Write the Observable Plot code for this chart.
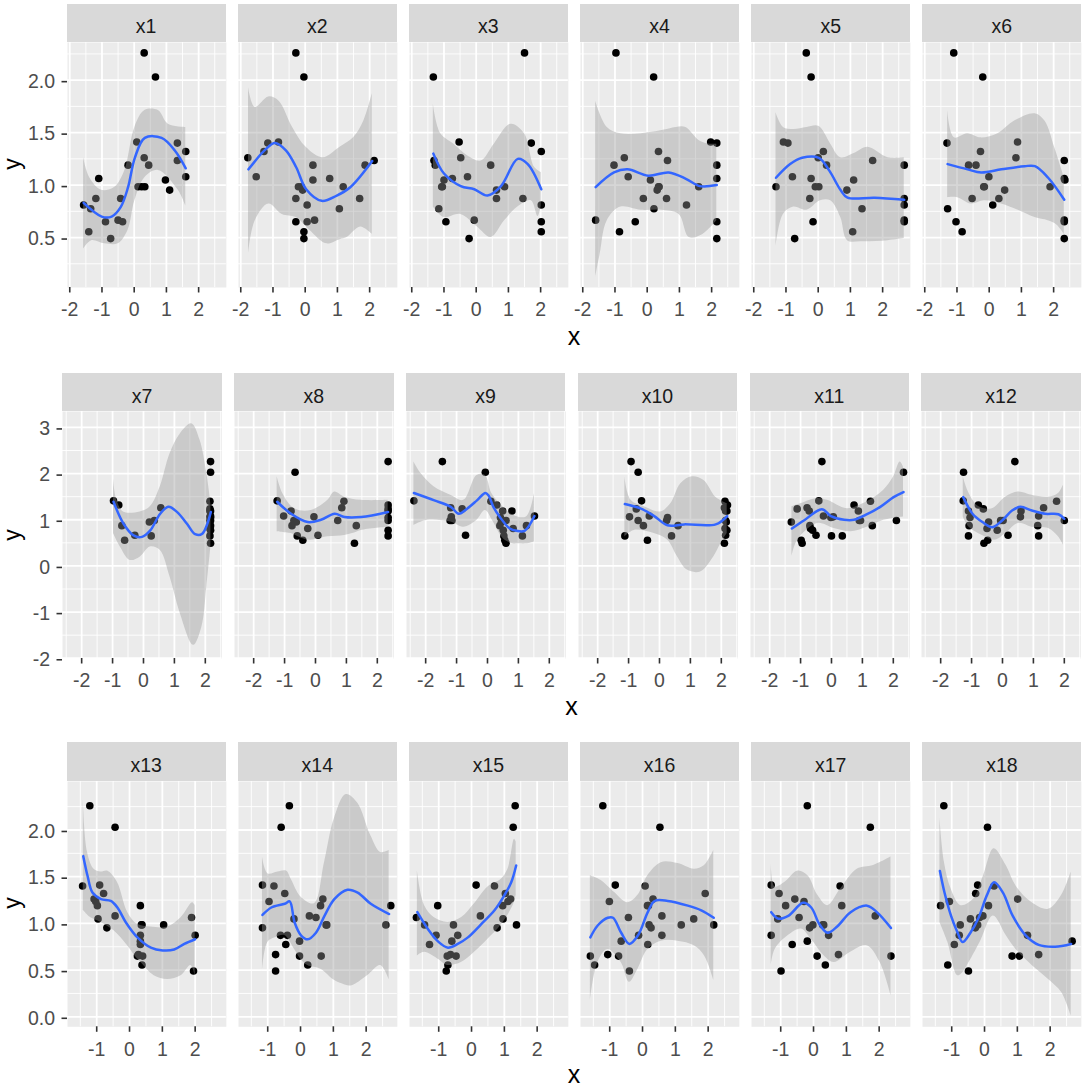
<!DOCTYPE html>
<html>
<head>
<meta charset="utf-8">
<script src="https://cdn.jsdelivr.net/npm/d3@7"></script>
<script src="https://cdn.jsdelivr.net/npm/@observablehq/plot@0.6"></script>
<style>
  body { margin: 0; background: #fff; width: 1084px; height: 1088px; position: relative; overflow: hidden;
         font-family: "Liberation Sans", Arial, sans-serif; }
  .strip { position: absolute; background: #D9D9D9; color: #1A1A1A; font-size: 19.5px; box-sizing: border-box;
           padding-top: 8px; display: flex; align-items: center; justify-content: center; }
  .pnl { position: absolute; }
  .pnl svg { background: transparent; }
  .ttl { position: absolute; width: 0; height: 0; font-size: 25px; color: #000; line-height: 0.6; }
  .ttl span { position: absolute; left: 0; top: 0; white-space: nowrap; transform: translate(-50%, -50%); }
  .ttl.rot { font-size: 23px; }
  .ttl.rot span { transform: translate(-50%, -50%) rotate(-90deg); }
</style>
</head>
<body>
<script>
// ---- shared response values (same y for every predictor panel) ----
const Y = [2.26, 2.03, 1.41, 1.40, 1.32, 1.26, 1.235, 1.19, 1.19, 1.08, 1.063, 1.048, 0.984, 0.984, 0.984, 0.952, 0.872, 0.872, 0.81, 0.774, 0.666, 0.65, 0.65, 0.555, 0.49];

// ---- predictor values, aligned with Y ----
const x1 = [0.31, 0.66, 0.08, 1.34, 1.60, 0.31, 1.34, 0.45, -0.19, 1.60, -1.10, 0.97, 0.12, 0.23, 0.33, 1.10, -1.19, -0.42, -1.57, -1.35, -0.50, -0.89, -0.36, -1.41, -0.73];
const x2 = [-0.29, -0.04, -0.83, -1.16, -1.28, -1.78, 2.14, 0.24, 1.86, -1.52, 0.76, 0.24, -0.21, -0.12, 1.18, -0.08, -0.29, 1.69, 0.06, 1.06, 0.29, -0.29, 0.06, -0.04, -0.04];
const x3 = [1.50, -1.33, -0.53, 1.71, 2.02, -0.48, -1.31, 0.45, -1.27, -0.27, -0.74, -1.00, -1.05, -1.07, 0.88, 0.63, 0.63, 1.45, 2.02, -1.16, -0.06, -0.94, 2.02, 2.02, -0.22];
const x4 = [-0.97, 0.20, 1.97, 2.16, 0.35, -0.71, 0.63, -1.03, 2.16, -0.59, 2.16, 0.10, 0.37, 1.60, 0.35, 0.31, -0.12, 0.60, 1.22, 0.21, -1.60, -0.37, 2.16, -0.86, 2.16];
const x5 = [-0.37, -0.22, -1.08, -0.94, 0.16, 0.00, 1.69, 0.26, 2.67, -0.80, -0.22, 1.10, -1.31, -0.09, 0.02, 0.89, -0.26, 2.67, 2.67, 1.36, 2.67, -0.16, 2.67, 1.07, -0.73];
const x6 = [-1.10, -0.20, 0.88, -1.31, -0.27, 0.83, 2.33, -0.64, -0.41, -0.01, 2.33, 2.35, -0.17, 1.89, -0.15, 0.48, -0.53, 0.30, 0.11, -1.29, 2.33, -1.03, 2.33, -0.84, 2.33];
const x7 = [2.17, 2.17, -0.97, 2.15, -0.80, 0.56, 2.15, 2.17, 2.15, 2.17, 2.15, 2.17, 0.35, 2.15, 2.17, 0.19, -0.70, 2.17, 2.15, 2.17, -0.28, 0.25, 2.15, -0.61, 2.17];
const x8 = [2.35, -0.66, -1.24, 0.92, 2.35, 0.85, 2.35, -0.79, 2.35, -1.03, -0.05, 2.35, 0.72, -0.70, 2.35, -0.62, -0.76, 1.32, -0.25, 2.35, 0.08, -0.59, 2.35, -0.41, 1.26];
const x9 = [-1.46, -0.07, -2.38, 0.11, 0.30, -1.19, -0.82, 0.79, 0.49, 1.52, -1.17, 0.42, -1.21, 0.60, -1.15, 0.45, 0.40, 1.26, 0.83, 0.51, -0.71, 0.53, 1.13, 0.56, 0.60];
const x10 = [-0.92, -0.69, -0.58, 2.12, 2.20, 2.10, -0.75, 2.14, 2.18, -0.33, -0.97, 0.26, -0.69, 0.23, 2.14, 2.16, -0.52, 0.60, 2.12, 2.18, 2.14, -1.12, 0.39, -0.39, 2.10];
const x11 = [-0.31, 2.33, -0.41, 1.26, 0.73, -0.79, -1.11, -0.72, 0.87, -0.26, 0.06, -0.02, 0.94, 2.10, 0.90, -1.30, -0.70, 1.32, -0.68, -0.61, -0.50, 0.00, 0.35, -0.98, -0.95];
const x12 = [0.40, -1.26, -1.27, 1.75, -0.78, 1.33, -0.62, 0.60, -1.10, 1.17, 0.58, -1.05, -0.06, 2.00, 0.02, -0.45, -1.08, 1.14, -0.50, -0.17, 0.18, -1.10, 1.17, -0.48, -0.60];
const x13 = [-1.21, -0.44, -0.91, -1.43, -0.79, -1.08, -1.03, -0.98, 0.33, -0.44, 1.89, -0.96, 0.38, 1.04, 0.36, -0.69, 0.33, 2.00, 0.33, 0.33, 0.27, 0.40, 0.24, 0.38, 1.95];
const x14 = [-0.34, -0.59, -1.16, -0.81, -0.48, 0.68, -0.96, 0.61, 2.75, 0.27, 0.47, -0.20, 0.78, 2.60, 0.80, -1.16, -0.61, -0.40, -0.03, -0.45, -0.76, -0.03, 0.63, 0.22, -0.76];
const x15 = [1.33, 1.27, 0.14, 0.70, 1.03, 1.19, 1.11, -1.03, 0.95, 0.27, -1.68, 0.96, -1.43, 1.37, -0.55, 0.78, -1.08, -0.42, -0.60, -1.28, -0.64, -0.74, -0.47, -0.72, -0.77];
const x16 = [-1.21, 0.53, -0.83, 0.08, 1.91, 0.32, -1.01, 0.18, 0.15, 0.59, -0.43, 1.56, 1.18, 2.17, 0.20, 0.26, 0.59, -0.12, -0.65, 0.16, -1.06, -1.59, -0.73, -1.46, -0.40];
const x17 = [-0.19, 1.73, -1.29, 0.81, -1.05, -0.57, -0.29, -0.85, 0.86, 1.88, -0.44, -1.09, 0.31, -0.02, 0.28, -0.12, -1.29, 0.46, -0.19, -0.65, 0.76, 0.11, 2.36, 0.36, -0.99];
const x18 = [-1.24, 0.09, -0.21, 0.29, -0.27, 1.01, -1.07, -1.34, 0.12, -0.05, -0.15, -0.43, -0.74, -0.21, -0.25, -0.28, -0.77, 1.31, 2.67, -0.92, 1.65, 0.84, 1.06, -1.12, -0.49];

// ---- loess fits [x, y] and confidence band edges ----
const fit1 = [[-1.57,0.83],[-1.01,0.70],[-0.70,0.70],[-0.42,0.79],[-0.19,0.98],[0.02,1.26],[0.33,1.45],[0.85,1.45],[1.26,1.33],[1.60,1.16]];
const hi1 = [[-1.57,1.26],[-1.38,1.07],[-1.01,0.95],[-0.60,0.98],[-0.29,1.14],[0.02,1.55],[0.33,1.71],[0.75,1.71],[1.06,1.58],[1.60,1.55]];
const lo1 = [[-1.57,0.39],[-1.32,0.47],[-0.91,0.44],[-0.50,0.44],[-0.19,0.57],[0.02,0.85],[0.33,1.07],[0.75,1.14],[1.37,0.95],[1.60,0.80]];

const fit2 = [[-1.76,1.15],[-1.23,1.34],[-0.94,1.40],[-0.60,1.33],[-0.28,1.17],[0.03,0.96],[0.51,0.85],[0.98,0.90],[1.40,0.98],[2.08,1.23]];
const hi2 = [[-1.76,1.93],[-1.55,1.74],[-1.13,1.84],[-0.81,1.80],[-0.39,1.55],[0.03,1.36],[0.56,1.26],[1.08,1.36],[1.50,1.45],[1.82,1.61],[2.08,1.87]];
const lo2 = [[-1.76,0.34],[-1.55,0.66],[-1.13,0.82],[-0.71,0.72],[-0.28,0.69],[0.14,0.57],[0.67,0.44],[1.08,0.48],[1.30,0.50],[1.72,0.60],[2.08,0.53]];

const fit3 = [[-1.33,1.30],[-1.00,1.11],[-0.48,0.99],[-0.06,0.96],[0.35,0.90],[0.77,0.99],[1.29,1.25],[1.60,1.20],[2.02,0.96]];
const hi3 = [[-1.33,1.77],[-1.10,1.49],[-0.69,1.39],[-0.27,1.28],[0.15,1.23],[0.56,1.39],[1.08,1.58],[1.50,1.49],[1.81,1.17],[2.02,1.12]];
const lo3 = [[-1.33,0.79],[-1.00,0.69],[-0.48,0.72],[0.04,0.60],[0.46,0.50],[0.88,0.66],[1.29,0.79],[1.71,0.85],[1.92,0.70],[2.02,0.80]];

const fit4 = [[-1.60,0.98],[-1.03,1.12],[-0.61,1.15],[0.03,1.09],[0.67,1.12],[1.20,1.06],[1.63,0.99],[2.16,1.00]];
const hi4 = [[-1.60,1.80],[-1.24,1.55],[-0.82,1.49],[-0.18,1.49],[0.46,1.52],[0.90,1.55],[1.20,1.55],[1.63,1.42],[1.95,1.39],[2.16,1.39]];
const lo4 = [[-1.60,0.12],[-1.46,0.34],[-1.24,0.66],[-0.82,0.79],[-0.18,0.76],[0.46,0.76],[0.99,0.72],[1.31,0.50],[1.73,0.53],[2.16,0.66]];

const fit5 = [[-1.31,1.07],[-0.87,1.20],[-0.50,1.26],[0.02,1.26],[0.34,1.14],[0.70,0.95],[0.91,0.88],[1.75,0.88],[2.67,0.86]];
const hi5 = [[-1.31,1.69],[-1.08,1.55],[-0.76,1.53],[-0.35,1.55],[0.02,1.56],[0.39,1.39],[0.70,1.26],[1.12,1.30],[1.54,1.36],[2.17,1.26],[2.67,1.26]];
const lo5 = [[-1.31,0.41],[-1.08,0.72],[-0.76,0.79],[-0.35,0.76],[0.07,0.85],[0.39,0.85],[0.70,0.69],[0.91,0.47],[1.33,0.46],[2.17,0.47],[2.67,0.49]];

const fit6 = [[-1.29,1.20],[-0.67,1.15],[-0.25,1.12],[0.38,1.15],[1.10,1.18],[1.42,1.18],[1.83,1.07],[2.33,0.86]];
const hi6 = [[-1.29,1.71],[-1.08,1.45],[-0.67,1.49],[-0.25,1.45],[0.27,1.49],[0.79,1.61],[1.42,1.68],[1.73,1.61],[2.04,1.35],[2.33,1.07]];
const lo6 = [[-1.29,0.88],[-0.98,0.88],[-0.56,0.82],[-0.15,0.85],[0.38,0.82],[0.90,0.76],[1.42,0.69],[1.83,0.66],[2.10,0.62],[2.33,0.53]];

const fit7 = [[-0.97,1.39],[-0.65,0.92],[-0.32,0.66],[-0.05,0.63],[0.22,0.77],[0.54,1.13],[0.81,1.28],[1.08,1.17],[1.40,0.92],[1.67,0.69],[1.89,0.69],[2.18,1.17]];
const hi7 = [[-0.97,1.89],[-0.86,1.42],[-0.65,1.17],[-0.11,1.17],[0.22,1.28],[0.54,1.71],[0.86,2.43],[1.19,2.86],[1.56,3.08],[1.83,2.72],[2.05,2.00],[2.18,1.35]];
const lo7 = [[-0.97,0.70],[-0.75,0.41],[-0.43,0.12],[-0.11,0.19],[0.22,0.41],[0.54,0.34],[0.86,-0.24],[1.19,-1.03],[1.62,-1.72],[1.89,-1.32],[2.05,-0.45],[2.18,0.41]];

const fit8 = [[-1.24,1.39],[-0.79,1.13],[-0.25,0.95],[0.18,1.00],[0.62,1.13],[0.94,1.06],[1.48,1.06],[2.35,1.17]];
const hi8 = [[-1.24,1.93],[-1.06,1.57],[-0.68,1.24],[-0.14,1.20],[0.40,1.42],[0.62,1.60],[0.94,1.49],[1.48,1.42],[2.35,1.42]];
const lo8 = [[-1.24,0.74],[-1.00,0.72],[-0.79,0.70],[-0.25,0.56],[0.40,0.63],[0.94,0.66],[1.20,0.70],[1.48,0.77],[2.35,0.84]];

const fit9 = [[-2.38,1.58],[-1.72,1.42],[-1.19,1.28],[-0.93,1.13],[-0.66,1.24],[-0.34,1.42],[-0.07,1.58],[0.03,1.53],[0.19,1.28],[0.40,1.06],[0.72,0.81],[0.94,0.76],[1.20,0.76],[1.52,1.08]];
const hi9 = [[-2.38,2.25],[-2.15,2.00],[-1.72,1.71],[-1.19,1.53],[-0.77,1.42],[-0.34,1.96],[-0.07,1.96],[0.14,1.57],[0.40,1.35],[0.83,1.10],[1.26,1.06],[1.52,1.57]];
const lo9 = [[-2.38,0.88],[-1.94,0.99],[-1.19,0.95],[-0.77,0.84],[-0.34,0.99],[-0.07,1.20],[0.19,0.95],[0.51,0.59],[0.83,0.48],[1.00,0.48],[1.26,0.48],[1.52,0.52]];

const fit10 = [[-1.12,1.34],[-0.60,1.24],[-0.17,1.08],[0.26,0.88],[0.80,0.90],[1.82,0.90],[2.19,1.08]];
const hi10 = [[-1.12,1.93],[-0.92,1.42],[-0.49,1.28],[0.04,1.17],[0.37,1.35],[0.69,1.78],[1.06,1.93],[1.44,1.85],[1.82,1.49],[2.19,1.35]];
const lo10 = [[-1.12,0.63],[-0.82,0.77],[-0.17,0.70],[0.26,0.56],[0.58,0.20],[0.90,-0.09],[1.33,-0.13],[1.76,0.20],[2.00,0.50],[2.19,0.70]];

const fit11 = [[-1.28,0.81],[-0.88,0.99],[-0.31,1.23],[-0.02,1.08],[0.41,1.00],[0.73,1.00],[1.15,1.12],[1.58,1.28],[2.01,1.49],[2.33,1.60]];
const hi11 = [[-1.28,1.28],[-0.98,1.35],[-0.45,1.46],[-0.13,1.42],[0.51,1.24],[1.15,1.39],[1.69,1.64],[2.01,1.93],[2.22,2.25],[2.33,2.14]];
const lo11 = [[-1.28,0.20],[-1.09,0.56],[-0.45,0.92],[0.09,0.81],[0.62,0.74],[1.15,0.84],[1.69,0.99],[2.00,1.03],[2.20,1.05],[2.33,1.06]];

const fit12 = [[-1.27,1.49],[-0.97,1.13],[-0.65,0.95],[-0.33,0.84],[0.00,0.99],[0.31,1.20],[0.58,1.28],[0.95,1.20],[1.38,1.13],[1.81,1.12],[2.00,1.02]];
const hi12 = [[-1.27,1.93],[-1.08,1.57],[-0.76,1.28],[-0.33,1.24],[0.10,1.49],[0.52,1.60],[0.95,1.53],[1.49,1.49],[1.81,1.57],[1.97,1.75]];
const lo12 = [[-1.27,1.06],[-1.08,0.84],[-0.65,0.66],[-0.22,0.56],[0.10,0.70],[0.52,0.92],[0.95,0.84],[1.49,0.81],[1.81,0.63],[1.97,0.45]];

const fit13 = [[-1.41,1.72],[-1.28,1.51],[-1.13,1.33],[-0.87,1.26],[-0.57,1.24],[-0.37,1.17],[-0.11,1.01],[0.24,0.85],[0.65,0.74],[1.01,0.71],[1.36,0.72],[1.67,0.78],[2.00,0.83]];
const hi13 = [[-1.41,2.33],[-1.28,1.76],[-1.08,1.58],[-0.87,1.55],[-0.67,1.56],[-0.37,1.44],[-0.06,1.12],[0.24,0.99],[0.65,0.96],[1.16,0.96],[1.57,1.06],[1.92,1.22],[2.00,1.19]];
const lo13 = [[-1.41,1.14],[-1.28,1.09],[-1.18,1.06],[-0.87,1.01],[-0.47,0.92],[-0.06,0.76],[0.15,0.66],[0.35,0.58],[0.75,0.44],[1.16,0.40],[1.57,0.44],[1.87,0.55],[2.00,0.44]];

const fit14 = [[-1.16,1.09],[-0.89,1.17],[-0.48,1.21],[-0.33,1.235],[-0.18,1.01],[0.02,0.87],[0.22,0.83],[0.47,0.90],[0.73,1.08],[1.03,1.26],[1.43,1.36],[1.74,1.33],[2.14,1.21],[2.70,1.10]];
const hi14 = [[-1.16,1.71],[-0.99,1.53],[-0.69,1.55],[-0.43,1.56],[-0.28,1.47],[0.02,1.28],[0.42,1.21],[0.73,1.65],[1.03,2.12],[1.39,2.38],[1.74,2.29],[2.14,1.94],[2.44,1.76],[2.70,1.78]];
const lo14 = [[-1.16,0.49],[-0.99,0.80],[-0.75,0.85],[-0.48,0.87],[-0.18,0.72],[0.00,0.62],[0.22,0.55],[0.62,0.51],[1.03,0.39],[1.28,0.35],[1.54,0.33],[2.04,0.44],[2.44,0.55],[2.70,0.40]];

const fit15 = [[-1.65,1.12],[-1.33,0.94],[-1.03,0.81],[-0.72,0.74],[-0.42,0.78],[-0.11,0.85],[0.29,0.99],[0.70,1.14],[1.00,1.30],[1.21,1.44],[1.36,1.62]];
const hi15 = [[-1.65,1.56],[-1.43,1.19],[-1.13,1.06],[-0.72,1.01],[-0.31,1.06],[0.09,1.21],[0.50,1.39],[0.90,1.47],[1.11,1.58],[1.31,1.90],[1.36,1.87]];
const lo15 = [[-1.65,0.65],[-1.43,0.69],[-1.03,0.62],[-0.72,0.55],[-0.31,0.58],[0.09,0.69],[0.50,0.83],[0.90,0.98],[1.21,1.15],[1.30,1.22],[1.36,1.30]];

const fit16 = [[-1.59,0.85],[-1.36,0.98],[-1.06,1.06],[-0.90,1.06],[-0.65,0.90],[-0.40,0.78],[-0.14,0.87],[0.16,1.12],[0.37,1.24],[0.77,1.24],[1.38,1.19],[1.79,1.14],[2.17,1.06]];
const hi16 = [[-1.59,1.51],[-1.26,1.46],[-1.00,1.38],[-0.85,1.33],[-0.45,1.22],[-0.14,1.30],[0.16,1.51],[0.57,1.65],[1.08,1.64],[1.58,1.58],[1.89,1.62],[2.17,1.78]];
const lo16 = [[-1.59,0.17],[-1.36,0.58],[-1.06,0.72],[-0.65,0.58],[-0.40,0.37],[-0.14,0.51],[0.16,0.72],[0.57,0.81],[1.08,0.81],[1.58,0.76],[1.89,0.65],[2.17,0.39]];

const fit17 = [[-1.29,1.12],[-1.07,1.05],[-0.77,1.08],[-0.32,1.22],[-0.07,1.17],[0.18,0.99],[0.43,0.90],[0.73,0.97],[1.13,1.12],[1.63,1.19],[1.93,1.12],[2.36,0.95]];
const hi17 = [[-1.29,1.65],[-1.17,1.39],[-0.87,1.44],[-0.47,1.56],[-0.17,1.51],[0.13,1.30],[0.43,1.19],[0.83,1.37],[1.33,1.58],[1.83,1.62],[2.36,1.71]];
const lo17 = [[-1.29,0.55],[-1.17,0.72],[-0.77,0.87],[-0.37,0.94],[-0.07,0.83],[0.33,0.65],[0.63,0.58],[1.13,0.69],[1.63,0.76],[2.03,0.58],[2.36,0.23]];

const fit18 = [[-1.36,1.56],[-1.22,1.33],[-1.02,1.08],[-0.82,0.90],[-0.67,0.80],[-0.43,0.90],[-0.18,1.06],[0.07,1.30],[0.29,1.44],[0.56,1.33],[0.86,1.08],[1.26,0.87],[1.65,0.77],[2.15,0.75],[2.64,0.78]];
const hi18 = [[-1.36,2.13],[-1.22,1.65],[-1.02,1.37],[-0.72,1.19],[-0.33,1.26],[-0.03,1.51],[0.29,1.80],[0.66,1.62],[0.96,1.40],[1.45,1.22],[1.95,1.15],[2.35,1.30],[2.64,1.55]];
const lo18 = [[-1.36,1.01],[-1.12,0.80],[-0.82,0.44],[-0.67,0.47],[-0.52,0.55],[-0.13,0.80],[0.27,1.08],[0.66,0.87],[0.96,0.72],[1.45,0.55],[1.95,0.40],[2.35,0.26],[2.64,0.01]];

// ---- facet labels and tick labels ----
const facetNames = ["x1","x2","x3","x4","x5","x6","x7","x8","x9","x10","x11","x12","x13","x14","x15","x16","x17","x18"];
const xTicksRow1 = [-2, -1, 0, 1, 2];
const xTicksRow2 = [-2, -1, 0, 1, 2];
const xTicksRow3 = [-1, 0, 1, 2];
const yTicksRow1 = [0.5, 1.0, 1.5, 2.0];
const yTicksRow2 = [-2, -1, 0, 1, 2, 3];
const yTicksRow3 = [0.0, 0.5, 1.0, 1.5, 2.0];
const xTitle = "x";
const yTitle = "y";

const XS = [x1,x2,x3,x4,x5,x6,x7,x8,x9,x10,x11,x12,x13,x14,x15,x16,x17,x18];
const FITS = [fit1,fit2,fit3,fit4,fit5,fit6,fit7,fit8,fit9,fit10,fit11,fit12,fit13,fit14,fit15,fit16,fit17,fit18];
const HIS = [hi1,hi2,hi3,hi4,hi5,hi6,hi7,hi8,hi9,hi10,hi11,hi12,hi13,hi14,hi15,hi16,hi17,hi18];
const LOS = [lo1,lo2,lo3,lo4,lo5,lo6,lo7,lo8,lo9,lo10,lo11,lo12,lo13,lo14,lo15,lo16,lo17,lo18];

// ---- layout (positions in px) ----
const rows = [
  { left0: 66.7, w: 158.85, gap: 12.3, stripTop: 3.5, top: 41.7, bottom: 286.7, ml: 62,
    xd: [-2.07, 2.86], yd: [0.024, 2.359], xt: xTicksRow1, yt: yTicksRow1, yfmt: d => d.toFixed(1), titleY: 336 },
  { left0: 62.3, w: 159.5, gap: 12.3, stripTop: 373.3, top: 411, bottom: 658, ml: 58,
    xd: [-2.62, 2.54], yd: [-2.005, 3.345], xt: xTicksRow2, yt: yTicksRow2, yfmt: d => String(d), titleY: 706 },
  { left0: 66.7, w: 158.85, gap: 12.3, stripTop: 742.3, top: 780.7, bottom: 1026, ml: 62,
    xd: [-1.89, 2.95], yd: [-0.107, 2.519], xt: xTicksRow3, yt: yTicksRow3, yfmt: d => d.toFixed(1), titleY: 1073.8 }
];

const FONT = '"Liberation Sans", Arial, sans-serif';

function halfSteps(domain, step) {
  const out = [];
  const start = Math.ceil((domain[0] - step / 2) / step);
  for (let k = start; (k * step + step / 2) <= domain[1]; k++) {
    const v = k * step + step / 2;
    if (v >= domain[0] && v <= domain[1]) out.push(+v.toFixed(4));
  }
  return out;
}
function inDomain(vals, d) { return vals.filter(v => v >= d[0] && v <= d[1]); }

rows.forEach((row, r) => {
  const ph = row.bottom - row.top;
  const yStep = row.yt[1] - row.yt[0];
  const xMinor = halfSteps(row.xd, 1);
  const yMinor = halfSteps(row.yd, yStep);
  const xMajor = inDomain(row.xt, row.xd);
  const yMajor = inDomain(row.yt, row.yd);
  for (let c = 0; c < 6; c++) {
    const k = r * 6 + c;
    const first = c === 0;
    const ml = first ? row.ml : 0;
    const left = row.left0 + c * (row.w + row.gap);
    const pts = XS[k].map((x, i) => ({ x, y: Y[i] }));
    const fit = FITS[k].map(([x, y]) => ({ x, y }));
    const band = HIS[k].map((h, i) => ({ hx: h[0], hy: h[1], lx: LOS[k][i][0], ly: LOS[k][i][1] }));

    const marks = [
      Plot.frame({ fill: "#EBEBEB", stroke: "none" }),
      Plot.ruleX(xMinor, { stroke: "#FFFFFF", strokeWidth: 0.9 }),
      Plot.ruleY(yMinor, { stroke: "#FFFFFF", strokeWidth: 0.9 }),
      Plot.ruleX(xMajor, { stroke: "#FFFFFF", strokeWidth: 1.8 }),
      Plot.ruleY(yMajor, { stroke: "#FFFFFF", strokeWidth: 1.8 }),
      Plot.dot(pts, { x: "x", y: "y", r: 3.8, fill: "#000000", stroke: "none" }),
      Plot.area(band, { x1: "hx", y1: "hy", x2: "lx", y2: "ly", fill: "#999999", fillOpacity: 0.4, curve: "catmull-rom", clip: true }),
      Plot.line(fit, { x: "x", y: "y", stroke: "#3366FF", strokeWidth: 2.5, curve: "catmull-rom", clip: true }),
      Plot.axisX({ ticks: xMajor, tickFormat: d => String(d), tickSize: 5.5, tickPadding: 9.5, strokeWidth: 1.6,
                   stroke: "#333333", fill: "#4D4D4D", fontSize: 19.5, label: null })
    ];
    if (first) {
      marks.push(Plot.axisY({ ticks: yMajor, tickFormat: row.yfmt, tickSize: 5.5, tickPadding: 7, strokeWidth: 1.6,
                              stroke: "#333333", fill: "#4D4D4D", fontSize: 19.5, label: null, dy: 1.5 }));
    }

    const svg = Plot.plot({
      width: row.w + ml,
      height: ph + 60,
      marginLeft: ml, marginRight: 0, marginTop: 0, marginBottom: 60,
      style: { background: "transparent", fontFamily: FONT, fontSize: "19.5px", overflow: "visible" },
      x: { domain: row.xd },
      y: first ? { domain: row.yd } : { domain: row.yd, axis: null },
      marks
    });

    const holder = document.createElement("div");
    holder.className = "pnl";
    holder.style.left = (left - ml) + "px";
    holder.style.top = row.top + "px";
    holder.style.width = (row.w + ml) + "px";
    holder.appendChild(svg);
    document.body.appendChild(holder);

    const strip = document.createElement("div");
    strip.className = "strip";
    strip.style.left = left + "px";
    strip.style.top = row.stripTop + "px";
    strip.style.width = row.w + "px";
    strip.style.height = (row.top - row.stripTop) + "px";
    strip.textContent = facetNames[k];
    document.body.appendChild(strip);
  }

  // axis titles
  const rightEdge = row.left0 + 5 * (row.w + row.gap) + row.w;
  const xt = document.createElement("div");
  xt.className = "ttl";
  xt.style.left = ((row.left0 + rightEdge) / 2) + "px";
  xt.style.top = row.titleY + "px";
  xt.innerHTML = "<span></span>";
  xt.firstChild.textContent = xTitle;
  document.body.appendChild(xt);

  const yt = document.createElement("div");
  yt.className = "ttl rot";
  yt.style.left = "13.2px";
  yt.style.top = ((row.top + row.bottom) / 2) + "px";
  yt.innerHTML = "<span></span>";
  yt.firstChild.textContent = yTitle;
  document.body.appendChild(yt);
});
</script>
</body>
</html>
